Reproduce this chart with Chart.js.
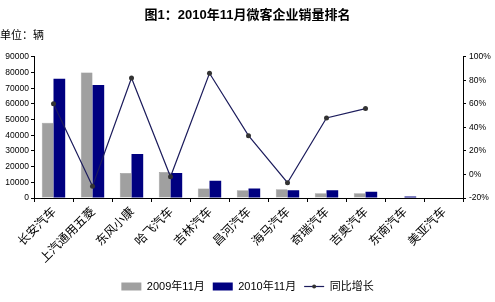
<!DOCTYPE html>
<html>
<head>
<meta charset="utf-8">
<script src="https://cdn.jsdelivr.net/npm/chart.js@4"></script>
<style>
  html, body { margin: 0; padding: 0; background: #fff; }
  #wrap { width: 495px; height: 302px; }
</style>
</head>
<body>
<div id="wrap"><canvas id="chart"></canvas></div>
<script>
var categories = ['长安汽车', '上汽通用五菱', '东风小康', '哈飞汽车', '吉林汽车', '昌河汽车', '海马汽车', '奇瑞汽车', '吉奥汽车', '东南汽车', '美亚汽车']
var sales2009 = [48000, 80000, 16000, 16500, 6000, 5000, 5500, 3000, 3000, 0, 0]
var sales2010 = [76000, 72000, 28000, 16000, 11000, 6000, 5000, 5000, 4000, 1000, 0]
var growth = [60, -10, 82, -2, 86, 33, -7, 48, 56, null, null]

var leftTicks = [0, 10000, 20000, 30000, 40000, 50000, 60000, 70000, 80000, 90000]
var rightTicks = [-20, 0, 20, 40, 60, 80, 100]

var font_family = "'Liberation Sans', 'Noto Sans CJK SC', sans-serif"
var line_color = '#1c1c5c'

// small dot in the middle of the line legend item
var legendDot = {
    id: 'legendDot',
    afterDraw: function (chart) {
        var legend = chart.legend
        if (!legend || !legend.legendHitBoxes) return
        legend.legendItems.forEach(function (item, i) {
            if (item.datasetIndex !== 0) return
            var box = legend.legendHitBoxes[i]
            var c = chart.ctx
            c.save()
            c.fillStyle = '#333333'
            c.beginPath()
            c.arc(box.left + 10, box.top + box.height / 2, 2, 0, Math.PI * 2)
            c.fill()
            c.restore()
        })
    }
}

var ctx = document.getElementById('chart').getContext('2d')
var chart = new Chart(ctx, {
    data: {
        labels: categories,
        datasets: [
            {
                type: 'line',
                label: '同比增长',
                data: growth,
                yAxisID: 'y1',
                borderColor: line_color,
                backgroundColor: '#333333',
                borderWidth: 1.2,
                pointRadius: 2.5,
                pointBorderWidth: 0,
                pointBackgroundColor: '#333333',
                lineTension: 0,
                spanGaps: false,
                order: 0
            },
            {
                type: 'bar',
                label: '2009年11月',
                data: sales2009,
                yAxisID: 'y',
                backgroundColor: '#a0a0a0',
                borderColor: '#888888',
                borderWidth: 0.5,
                order: 1
            },
            {
                type: 'bar',
                label: '2010年11月',
                data: sales2010,
                yAxisID: 'y',
                backgroundColor: '#000080',
                order: 1
            }
        ]
    },
    options: {
        responsive: true,
        maintainAspectRatio: false,
        animation: false,
        layout: { padding: { left: 0, right: 0, top: 0, bottom: 0 } },
        datasets: {
            bar: { barPercentage: 1.0, categoryPercentage: 0.6 }
        },
        plugins: {
            title: {
                display: true,
                text: '图1：2010年11月微客企业销量排名',
                color: '#000',
                font: { family: font_family, size: 13, weight: 'bold' },
                padding: { top: 8, bottom: 4 }
            },
            subtitle: {
                display: true,
                text: '单位：辆',
                align: 'start',
                color: '#000',
                font: { family: font_family, size: 11 },
                padding: { top: 2, bottom: 14 }
            },
            legend: {
                position: 'bottom',
                labels: {
                    color: '#000',
                    font: { family: font_family, size: 11 },
                    usePointStyle: true,
                    pointStyleWidth: 20,
                    boxHeight: 8,
                    padding: 8,
                    generateLabels: function (chart) {
                        var items = Chart.defaults.plugins.legend.labels.generateLabels(chart)
                        items.forEach(function (item) {
                            if (item.datasetIndex === 0) {
                                item.pointStyle = 'line'
                                item.strokeStyle = line_color
                                item.lineWidth = 1.2
                            } else {
                                item.pointStyle = 'rect'
                                item.lineWidth = 0
                            }
                        })
                        return items.slice(1).concat(items.slice(0, 1))
                    }
                }
            },
            tooltip: { enabled: false }
        },
        scales: {
            x: {
                grid: { display: true, drawOnChartArea: false, color: '#000', tickLength: 4, offset: true },
                border: { color: '#000', width: 1 },
                ticks: {
                    color: '#000',
                    font: { family: "'Noto Sans CJK SC', sans-serif", size: 12 },
                    minRotation: 45,
                    maxRotation: 45,
                    autoSkip: false,
                    padding: 2
                },
                afterFit: function (scale) { scale.height = 75 }
            },
            y: {
                position: 'left',
                min: 0,
                max: 90000,
                afterBuildTicks: function (scale) { scale.ticks = leftTicks.map(function (v) { return { value: v } }) },
                grid: { display: true, drawOnChartArea: false, color: '#000', tickLength: 3 },
                border: { color: '#000', width: 1 },
                ticks: {
                    color: '#000',
                    font: { family: font_family, size: 8.5 },
                    padding: 2,
                    callback: function (v) { return String(v) }
                },
                afterFit: function (scale) { scale.width = 34 }
            },
            y1: {
                position: 'right',
                min: -20,
                max: 100,
                afterBuildTicks: function (scale) { scale.ticks = rightTicks.map(function (v) { return { value: v } }) },
                grid: { display: true, drawOnChartArea: false, color: '#000', tickLength: 3 },
                border: { color: '#000', width: 1 },
                ticks: {
                    color: '#000',
                    font: { family: font_family, size: 8.5 },
                    padding: 3,
                    callback: function (v) { return v + '%' }
                },
                afterFit: function (scale) { scale.width = 32 }
            }
        }
    },
    plugins: [legendDot]
})
</script>
</body>
</html>
